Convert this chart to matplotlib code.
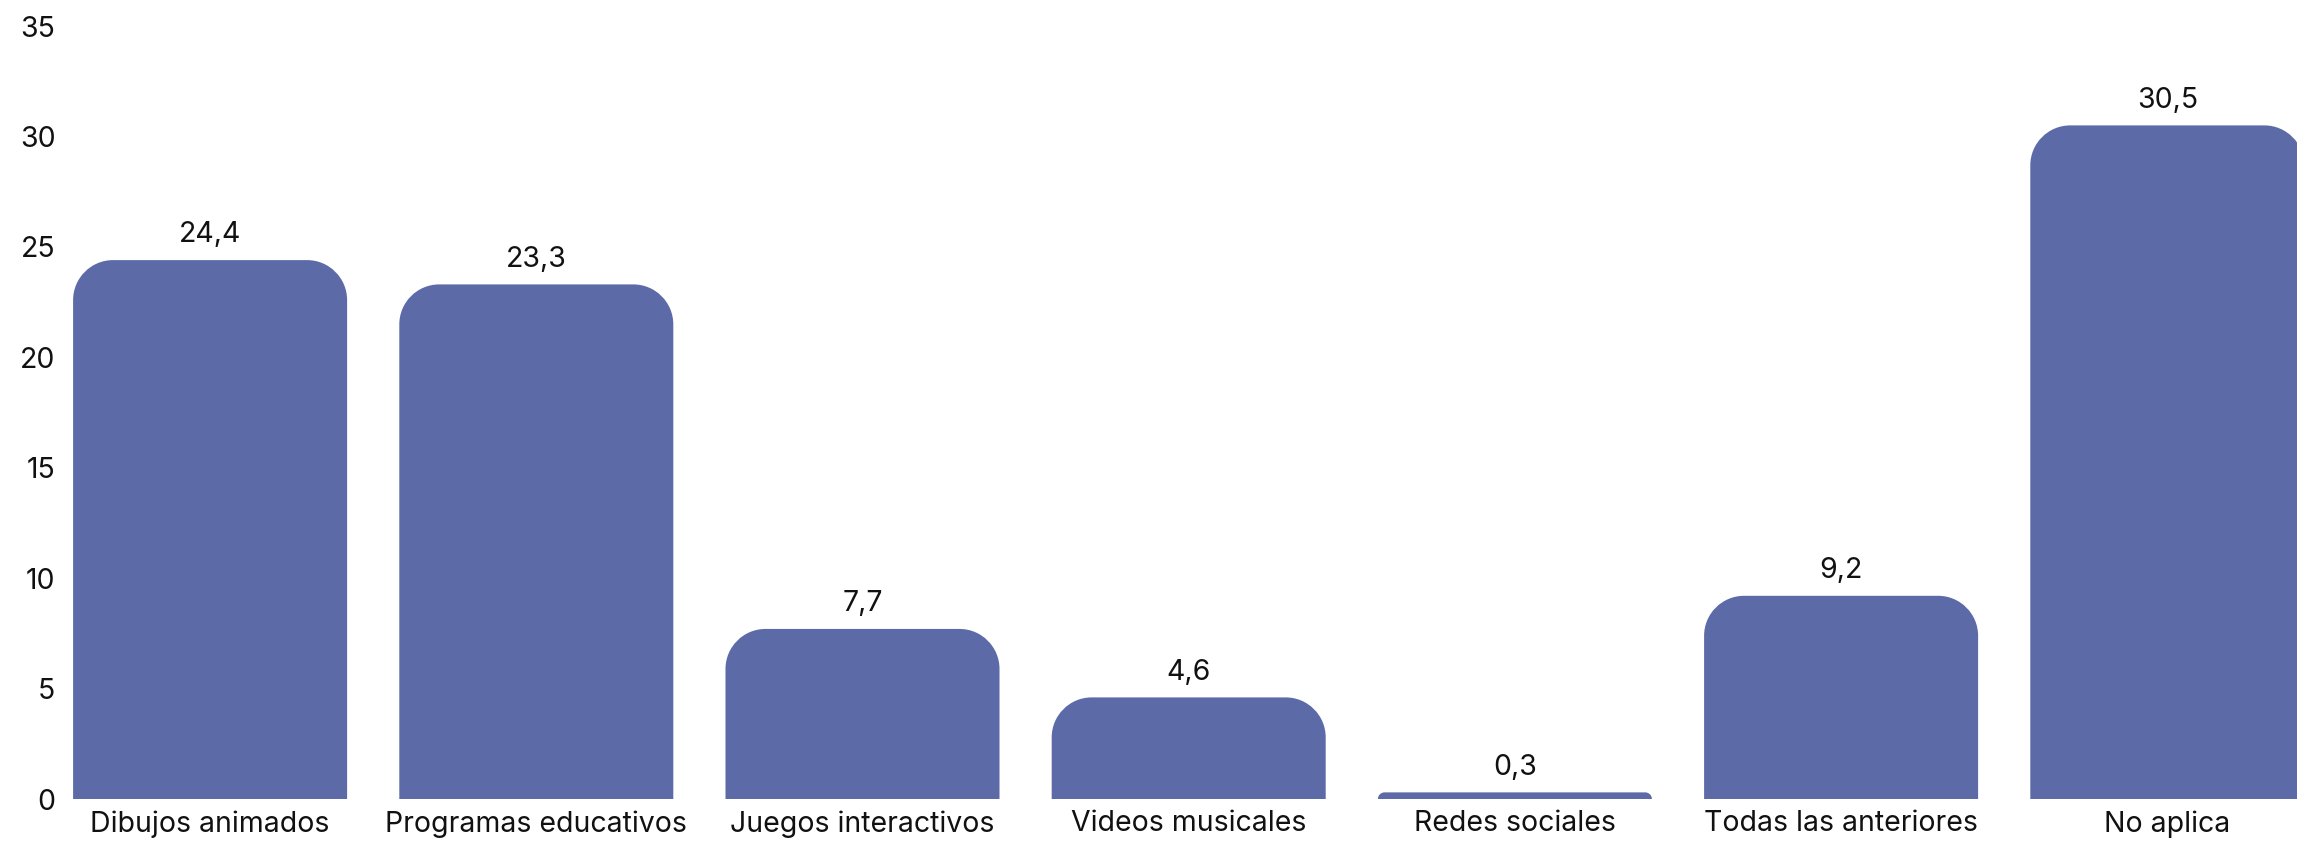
import matplotlib
matplotlib.use("Agg")
import matplotlib.pyplot as plt
from matplotlib.path import Path
from matplotlib.patches import PathPatch

categories = ["Dibujos animados", "Programas educativos", "Juegos interactivos",
              "Videos musicales", "Redes sociales", "Todas las anteriores", "No aplica"]
values = [24.4, 23.3, 7.7, 4.6, 0.3, 9.2, 30.5]
value_labels = ["24,4", "23,3", "7,7", "4,6", "0,3", "9,2", "30,5"]
yticks = [0, 5, 10, 15, 20, 25, 30, 35]

plt.rcParams['font.family'] = ['Inter', 'DejaVu Sans']
COLOR = "#5c6ba7"
FS = 20.5
W, H, DPI = 2297, 842, 100
fig = plt.figure(figsize=(W / DPI, H / DPI), dpi=DPI)
left_px, zero_px, top_px = 47, 799, 26
unit_x = 326.2
ax = fig.add_axes([left_px / W, (H - zero_px) / H, 7 * unit_x / W, (zero_px - top_px) / H])
ax.set_xlim(-0.5, 6.5)
ax.set_ylim(0, 35)

bar_w = 0.84
radius_px = 40
px_per_x = unit_x
px_per_y = (zero_px - top_px) / 35.0
k = 0.5523
for i, v in enumerate(values):
    x0, x1 = i - bar_w / 2, i + bar_w / 2
    rpx = min(radius_px, v * px_per_y)
    rx = rpx / px_per_x
    ry = rpx / px_per_y
    verts = [
        (x0, 0), (x0, v - ry),
        (x0, v - ry + k * ry), (x0 + rx - k * rx, v), (x0 + rx, v),
        (x1 - rx, v),
        (x1 - rx + k * rx, v), (x1, v - ry + k * ry), (x1, v - ry),
        (x1, 0), (x0, 0),
    ]
    codes = [Path.MOVETO, Path.LINETO,
             Path.CURVE4, Path.CURVE4, Path.CURVE4,
             Path.LINETO,
             Path.CURVE4, Path.CURVE4, Path.CURVE4,
             Path.LINETO, Path.CLOSEPOLY]
    ax.add_patch(PathPatch(Path(verts, codes), facecolor=COLOR, edgecolor="none"))
    ax.annotate(value_labels[i], (i, v), xytext=(0, 8.5), textcoords="offset points",
                ha="center", va="bottom", fontsize=FS, color="#111111")

ax.set_xticks(range(len(categories)))
ax.set_xticklabels(categories, fontsize=FS, color="#111111")
ax.set_yticks(yticks)
ax.set_yticklabels([str(t) for t in yticks], fontsize=FS, color="#111111")
ax.tick_params(axis="both", length=0)
ax.tick_params(axis="x", pad=8)
ax.tick_params(axis="y", pad=-6)
for s in ax.spines.values():
    s.set_visible(False)

fig.savefig("out.png", dpi=DPI)
